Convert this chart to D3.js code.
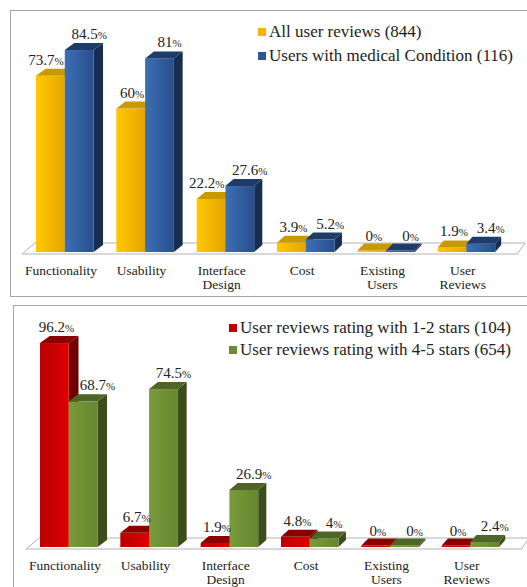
<!DOCTYPE html>
<html><head><meta charset="utf-8">
<script src="https://cdn.jsdelivr.net/npm/d3@7"></script>
<style>body{margin:0;background:#fff}svg{display:block}
text{font-family:"Liberation Serif","Times New Roman",Tinos,"DejaVu Serif","Noto Serif",serif}</style>
</head><body>
<svg id="c" width="527" height="587"></svg>
<script>
const categories = ["Functionality","Usability","Interface\nDesign","Cost","Existing\nUsers","User\nReviews"];
const topNames = ["All user reviews (844)","Users with medical Condition (116)"];
const topAll = [73.7, 60, 22.2, 3.9, 0, 1.9];
const topMedical = [84.5, 81, 27.6, 5.2, 0, 3.4];
const bottomNames = ["User reviews rating with 1-2 stars (104)","User reviews rating with 4-5 stars (654)"];
const bottomLow = [96.2, 6.7, 1.9, 4.8, 0, 0];
const bottomHigh = [68.7, 74.5, 26.9, 4, 0, 2.4];

const svg = d3.select("#c");
const defs = svg.append("defs");

const palettes = {
  gold:  {f0:"#ffc800", f1:"#e5a600", top:"#c99a00", side:"#a87e00", legend:"#f2b300"},
  blue:  {f0:"#3d6fb4", f1:"#284f8c", top:"#1f3b69", side:"#172d52", legend:"#2c5597"},
  red:   {f0:"#b80000", f1:"#e00000", top:"#8a0000", side:"#6e0000", legend:"#c00000"},
  green: {f0:"#7a9a3c", f1:"#668630", top:"#4e6526", side:"#3b4d1b", legend:"#6b8c32"}
};
Object.entries(palettes).forEach(([k,p])=>{
  const g = defs.append("linearGradient").attr("id","g_"+k).attr("x1","0").attr("x2","1").attr("y1","0").attr("y2","0");
  g.append("stop").attr("offset","0").attr("stop-color",p.f0);
  g.append("stop").attr("offset","1").attr("stop-color",p.f1);
});

// panel borders
svg.append("rect").attr("x",10.5).attr("y",10.5).attr("width",530).attr("height",286).attr("fill","none").attr("stroke","#a6a6a6");
svg.append("rect").attr("x",13.5).attr("y",305.5).attr("width",530).attr("height",300).attr("fill","none").attr("stroke","#a6a6a6");

function drawPanel(tx, ty, names, s0, s1, pal0, pal1, yTop, legendEnd, legendY, legendGap){
  const g = svg.append("g").attr("transform",`translate(${tx},${ty})`);
  const x = d3.scaleBand().domain(categories).range([25, 506.2]).paddingInner(0.284).paddingOuter(0.137);
  const xs = d3.scaleBand().domain([0,1]).range([0, x.bandwidth()]);
  const y = d3.scaleLinear().domain([0,100]).range([252, yTop]);
  const base = y(0);
  const dy = 7;
  const dxAt = px => 10 - 4*(px-36)/460;

  // floor
  const fl = x.range()[0]-3, fr = x.range()[1]+11;
  g.append("path")
    .attr("d",`M${fl},${base+2}L${fl+13},${base-9}L${fr+8},${base-9}L${fr},${base+2}Z`)
    .attr("fill","#fff").attr("stroke","#b3b3b3").attr("stroke-width",1);

  const series = [s0, s1], pals = [pal0, pal1];
  categories.forEach((c,i)=>{
    [0,1].forEach(si=>{
      const v = series[si][i];
      const p = palettes[pals[si]];
      const x0 = x(c) + xs(si), w = xs.bandwidth();
      const y1 = Math.min(y(v), base-1.5), y0 = base;
      const dx = dxAt(x0+w);
      g.append("path").attr("d",`M${x0+w},${y1}L${x0+w+dx},${y1-dy}L${x0+w+dx},${y0-dy}L${x0+w},${y0}Z`).attr("fill",p.side);
      g.append("rect").attr("x",x0).attr("y",y1).attr("width",w).attr("height",y0-y1).attr("fill",`url(#g_${pals[si]})`);
      g.append("path").attr("d",`M${x0},${y1}L${x0+dx},${y1-dy}L${x0+w+dx},${y1-dy}L${x0+w},${y1}Z`).attr("fill",p.top);
    });
  });

  // value labels
  categories.forEach((c,i)=>{
    [0,1].forEach(si=>{
      const v = series[si][i];
      const other = series[1-si][i];
      const x0 = x(c) + xs(si), w = xs.bandwidth();
      let tx, anchor = "middle";
      if (si===0) {
        if (other > v && v >= 10) { tx = x0 + w - 1; anchor = "end"; }
        else tx = x0 + w/2 + 2;
      } else {
        if (other > v && other >= 10) { tx = x0 + 11; anchor = "start"; }
        else tx = x0 + w/2 + 10;
      }
      const t = g.append("text").attr("x",tx).attr("y",y(v)-dy-4)
        .attr("text-anchor",anchor).attr("font-size",15).attr("fill","#222");
      t.append("tspan").text(String(v));
      t.append("tspan").attr("font-size",11).text("%");
    });
  });

  // category labels
  categories.forEach(c=>{
    const lines = c.split("\n");
    const cx = x(c)+x.bandwidth()/2-3.7;
    const t = g.append("text").attr("x",cx).attr("y",275)
      .attr("text-anchor","middle").attr("font-size",13.5).attr("fill","#222");
    lines.forEach((l,k)=>t.append("tspan").attr("x",cx).attr("dy",k?14:0).text(l));
  });

  // legend (right aligned)
  const lg = g.append("g");
  const texts = names.map((n,k)=>lg.append("text").attr("y",legendY + k*legendGap)
      .attr("font-size",17).attr("fill","#222").text(n));
  const maxW = d3.max(texts, t=>t.node().getComputedTextLength());
  const lx = legendEnd - maxW;
  texts.forEach((t,k)=>{
    t.attr("x",lx);
    lg.append("rect").attr("x",lx-11).attr("y",legendY + k*legendGap - 9).attr("width",8).attr("height",8)
      .attr("fill",palettes[pals[k]].legend);
  });
}

drawPanel(0, 0, topNames, topAll, topMedical, "gold", "blue", 13, 513, 37, 24);
drawPanel(4, 295, bottomNames, bottomLow, bottomHigh, "red", "green", 40, 507, 38, 22);
</script>
</body></html>
